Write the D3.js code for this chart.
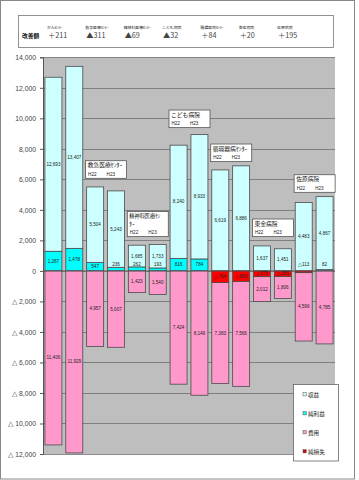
<!DOCTYPE html>
<html><head><meta charset="utf-8">
<script src="https://cdn.jsdelivr.net/npm/d3@7"></script>
<style>
html,body{margin:0;padding:0;background:#fff;}
svg{display:block;font-family:"Liberation Sans",Arial,sans-serif;}
.jp{font-family:"Noto Sans CJK JP","Noto Sans",sans-serif;}
</style></head>
<body>
<svg id="c" width="359" height="480"></svg>
<script>
// ---- data ----
const hospitals = ["がんｾﾝﾀｰ","救急医療ｾﾝﾀｰ","精神科医療ｾﾝﾀｰ","こども病院","循環器病ｾﾝﾀｰ","東金病院","佐原病院"];
const years = ["H22","H23"];
const improvement = ["＋211","▲311","▲69","▲32","＋84","＋20","＋195"];
const revenue = [12693,13407,5504,5243,1685,1733,8240,8933,6619,6886,1637,1451,4483,4867];
const cost    = [11406,11929,4957,5007,1423,1540,7424,8149,7383,7566,2012,1806,4596,4785];
const netResult = [1287,1478,547,236,262,193,816,784,-764,-680,-375,-355,-113,82];
const yTicks = [-12000,-10000,-8000,-6000,-4000,-2000,0,2000,4000,6000,8000,10000,12000,14000];
const legendLabels = ["収益","純利益","費用","純損失"];
// callout titles (hospital index -> lines)
const calloutLines = [null, ["救急医療ｾﾝﾀｰ"], ["精神科医療ｾﾝ","ﾀｰ"], ["こども病院"], ["循環器病ｾﾝﾀｰ"], ["東金病院"], ["佐原病院"]];

// ---- layout ----
const calloutTopVal = [null, 7255, 3932, 10577, 8349, 3434, 6337];
const colors = {rev:"#ccffff", net:"#00ffff", cost:"#ff99cc", loss:"#ff0000"};
const svg = d3.select("#c");
const categories = [];
hospitals.forEach(h => years.forEach(yr => categories.push(h + yr)));

const x = d3.scaleBand().domain(categories).range([43,335]).paddingInner(0.185).paddingOuter(0.0925);
const y = d3.scaleLinear().domain([-12000,14000]).range([454,57.3]);
const fmt = d3.format(",");
const lab = v => v < 0 ? "△" + fmt(-v) : fmt(v);

// outer frame
svg.append("rect").attr("x",0.5).attr("y",0.5).attr("width",354).attr("height",478.5)
  .attr("fill","none").attr("stroke","#888").attr("stroke-width",1);

// plot background
svg.append("rect").attr("x",x.range()[0]).attr("y",y(14000)).attr("width",x.range()[1]-x.range()[0])
  .attr("height",y(-12000)-y(14000)).attr("fill","#bebebe");

// gridlines
svg.append("g").selectAll("line").data(yTicks).join("line")
  .attr("x1",x.range()[0]).attr("x2",x.range()[1])
  .attr("y1",d=>Math.round(y(d))+0.5).attr("y2",d=>Math.round(y(d))+0.5)
  .attr("stroke","#6e6e6e").attr("stroke-width",0.8);

// segments
const segs = [];
categories.forEach((c,i) => {
  const n = netResult[i];
  if (n >= 0) {
    segs.push({c, y0:0, y1:n, fill:colors.net});
    segs.push({c, y0:n, y1:revenue[i], fill:colors.rev});
    segs.push({c, y0:0, y1:-cost[i], fill:colors.cost});
  } else {
    segs.push({c, y0:0, y1:revenue[i], fill:colors.rev});
    segs.push({c, y0:n, y1:-cost[i], fill:colors.cost});
    segs.push({c, y0:0, y1:n, fill:colors.loss});
  }
});
svg.append("g").selectAll("rect").data(segs).join("rect")
  .attr("x",d=>x(d.c)).attr("width",x.bandwidth())
  .attr("y",d=>y(Math.max(d.y0,d.y1))).attr("height",d=>Math.abs(y(d.y0)-y(d.y1)))
  .attr("fill",d=>d.fill).attr("stroke","#4a4a4a").attr("stroke-width",0.8);

// zero line
svg.append("line").attr("x1",x.range()[0]).attr("x2",x.range()[1])
  .attr("y1",y(0)).attr("y2",y(0)).attr("stroke","#555").attr("stroke-width",0.8);

// bar labels
const labels = [];
categories.forEach((c,i) => {
  const n = netResult[i];
  const revBase = n >= 0 ? n : 0;
  labels.push({c, v:revenue[i], yy:(y(revBase)+y(revenue[i]))/2});
  const costBase = n >= 0 ? 0 : n;
  labels.push({c, v:cost[i], yy:(y(costBase)+y(-cost[i]))/2});
  if (Math.abs(n) >= 300) labels.push({c, v:n, yy:(y(0)+y(n))/2});
  else labels.push({c, v:n, yy:y(0)-6});
});
svg.append("g").selectAll("text").data(labels).join("text")
  .attr("x",d=>x(d.c)+x.bandwidth()/2).attr("y",d=>d.yy)
  .attr("text-anchor","middle").attr("dominant-baseline","central")
  .attr("font-size",4.6).attr("fill","#222").text(d=>lab(d.v));

// y axis
const ax = svg.append("g").attr("transform",`translate(${x.range()[0]},0)`)
  .call(d3.axisLeft(y).tickValues(yTicks).tickSize(3).tickPadding(4)
    .tickFormat(v => v < 0 ? "△ " + fmt(-v) : fmt(v)));
ax.selectAll("text").attr("font-size",6.8).attr("fill","#444").attr("font-family","Liberation Sans, Arial, sans-serif");
ax.select(".domain").attr("stroke","#555");
ax.selectAll(".tick line").attr("stroke","#555");

// callout boxes
const bw = 41;
hospitals.forEach((h,hi) => {
  if (!calloutLines[hi]) return;
  const c0 = categories[hi*2], c1 = categories[hi*2+1];
  const cx = (x(c0) + x(c1) + x.bandwidth())/2;
  const lines = calloutLines[hi];
  const top = y(calloutTopVal[hi]);
  const fs = lines.length > 1 ? 5.2 : 5.8;
  const hgt = 10 + lines.length*7.6;
  const g = svg.append("g").attr("transform",`translate(${cx-bw/2},${top})`);
  g.append("rect").attr("x",0.5).attr("y",0.5).attr("width",bw).attr("height",hgt)
    .attr("fill","#fff").attr("stroke","#555").attr("stroke-width",0.8);
  lines.forEach((t,li) => g.append("text").attr("class","jp").attr("x",2.5).attr("y",7 + li*7.6)
    .attr("font-size",fs).attr("fill","#111").text(t));
  years.forEach((yr,yi) => g.append("text").attr("x",3 + yi*18.5).attr("y",7 + lines.length*7.6 + 1.2)
    .attr("font-size",4.6).attr("fill","#222").text(yr));
});

// legend
const lg = svg.append("g");
lg.append("rect").attr("x",293.5).attr("y",384.5).attr("width",45).attr("height",76.5)
  .attr("fill","#fff").attr("stroke","#666").attr("stroke-width",0.8);
const lcol = [colors.rev, colors.net, colors.cost, "#cc0000"];
const ly = d3.scalePoint().domain(legendLabels).range([394.5,451.5]);
legendLabels.forEach((t,i) => {
  lg.append("rect").attr("x",303).attr("y",ly(t)-1.8).attr("width",3.2).attr("height",3.2)
    .attr("fill",lcol[i]).attr("stroke","#555").attr("stroke-width",0.5);
  lg.append("text").attr("class","jp").attr("x",308).attr("y",ly(t)).attr("dominant-baseline","central")
    .attr("font-size",5.6).attr("fill","#222").text(t);
});

// top improvement box
const tb = svg.append("g");
tb.append("rect").attr("x",18.5).attr("y",15.5).attr("width",315).attr("height",32)
  .attr("fill","#fff").attr("stroke","#777").attr("stroke-width",0.8);
tb.append("text").attr("class","jp").attr("x",22).attr("y",37.5).attr("font-size",5.8)
  .attr("font-weight","bold").attr("fill","#111").text("改善額");
const hx = d3.scalePoint().domain(hospitals).range([47,277]);
hospitals.forEach((h,i) => {
  tb.append("text").attr("class","jp").attr("x",hx(h)).attr("y",28.5).attr("font-size",3.9)
    .attr("fill","#222").text(h);
  tb.append("text").attr("class","jp").attr("x",hx(h)+1).attr("y",37.5).attr("font-size",7.2)
    .attr("fill","#444").text(improvement[i]);
});
</script>
</body></html>
